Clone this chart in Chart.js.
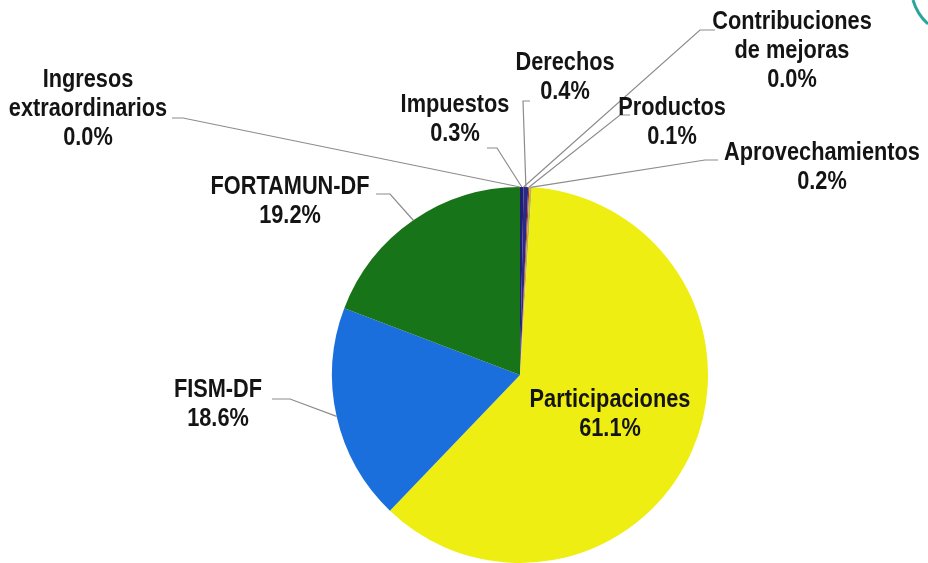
<!DOCTYPE html>
<html>
<head>
<meta charset="utf-8">
<script src="https://cdn.jsdelivr.net/npm/chart.js@4"></script>
<style>
  html, body { margin: 0; padding: 0; background: #fff; }
  #wrap { width: 928px; height: 563px; position: relative; }
</style>
</head>
<body>
<div id="wrap"><canvas id="pie"></canvas></div>
<script>
// ---- data ----
const categories = ['Impuestos', 'Contribuciones de mejoras', 'Derechos', 'Productos',
  'Aprovechamientos', 'Participaciones', 'FISM-DF', 'FORTAMUN-DF', 'Ingresos extraordinarios'];
const shares = [0.3, 0.0, 0.4, 0.1, 0.2, 61.1, 18.6, 19.2, 0.0];
const labelLines = [
  ['Impuestos'], ['Contribuciones', 'de mejoras'], ['Derechos'], ['Productos'],
  ['Aprovechamientos'], ['Participaciones'], ['FISM-DF'], ['FORTAMUN-DF'],
  ['Ingresos', 'extraordinarios']
];

// ---- styles / layout ----
const sliceColors = ['#1e1e72', '#8a8a8a', '#2a2a86', '#c0302a', '#b8b83a',
  '#eeee12', '#1b6fdc', '#187418', '#999999'];
// label block centre (x, y of first line), leader elbow + start
const labelLayout = [
  { x: 455, y: 105, lead: [[497, 148], [487, 148]] },
  { x: 792, y: 22,  lead: [[700, 30], [715, 30]] },
  { x: 565, y: 63,  lead: [[523, 101], [530, 101]] },
  { x: 672, y: 108, lead: [[620, 115], [630, 115]] },
  { x: 822, y: 153, lead: [[705, 160], [718, 160]] },
  { x: 610, y: 400, lead: null },
  { x: 218, y: 390, lead: [[290, 399], [272, 399]] },
  { x: 290, y: 187, lead: [[390, 194], [376, 194]] },
  { x: 88,  y: 80,  lead: [[183, 118], [172, 118]] }
];
const lineGap = 29;
const condense = 0.87;   // narrow bold face imitation

const labelPlugin = {
  id: 'pieLabels',
  afterDatasetsDraw(chart) {
    const ctx = chart.ctx;
    const meta = chart.getDatasetMeta(0);
    ctx.save();
    // leader lines
    ctx.strokeStyle = '#8c8c8c';
    ctx.lineWidth = 1.2;
    meta.data.forEach(function (arc, i) {
      const lay = labelLayout[i];
      if (!lay.lead) return;
      const p = arc.getProps(['x', 'y', 'startAngle', 'endAngle', 'outerRadius'], true);
      const mid = (p.startAngle + p.endAngle) / 2;
      const ex = p.x + Math.cos(mid) * p.outerRadius;
      const ey = p.y + Math.sin(mid) * p.outerRadius;
      ctx.beginPath();
      ctx.moveTo(lay.lead[1][0], lay.lead[1][1]);
      ctx.lineTo(lay.lead[0][0], lay.lead[0][1]);
      ctx.lineTo(ex, ey);
      ctx.stroke();
    });
    // texts
    ctx.fillStyle = '#141414';
    ctx.font = "bold 25px 'Liberation Sans', Arial, sans-serif";
    ctx.textAlign = 'center';
    ctx.textBaseline = 'middle';
    meta.data.forEach(function (arc, i) {
      const lay = labelLayout[i];
      const lines = labelLines[i].concat([shares[i].toFixed(1) + '%']);
      lines.forEach(function (t, k) {
        ctx.save();
        ctx.translate(lay.x, lay.y + k * lineGap);
        ctx.scale(condense, 1);
        ctx.fillText(t, 0, 0);
        ctx.restore();
      });
    });
    // decorative teal stroke in the corner of the scan
    ctx.strokeStyle = '#2aa59a';
    ctx.lineWidth = 3;
    ctx.beginPath();
    ctx.moveTo(913, 0);
    ctx.quadraticCurveTo(917, 14, 928, 24);
    ctx.stroke();
    ctx.restore();
  }
};

const ctx = document.getElementById('pie').getContext('2d');
new Chart(ctx, {
  type: 'pie',
  data: {
    labels: categories,
    datasets: [{
      data: shares,
      backgroundColor: sliceColors,
      borderWidth: 0
    }]
  },
  options: {
    responsive: true,
    maintainAspectRatio: false,
    animation: false,
    layout: { padding: { top: 187, bottom: 0, left: 300, right: 188 } },
    plugins: {
      legend: { display: false },
      tooltip: { enabled: false }
    }
  },
  plugins: [labelPlugin]
});
</script>
</body>
</html>
